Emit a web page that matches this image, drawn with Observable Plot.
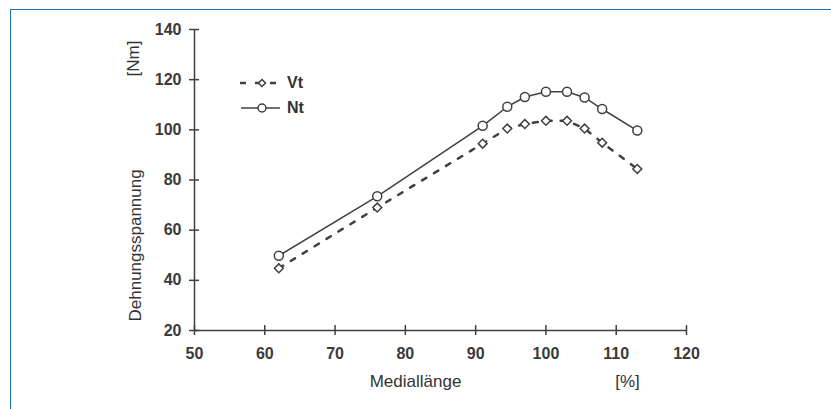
<!DOCTYPE html>
<html>
<head>
<meta charset="utf-8">
<script src="https://cdn.jsdelivr.net/npm/d3@7"></script>
<script src="https://cdn.jsdelivr.net/npm/@observablehq/plot@0.6"></script>
<style>
  html, body { margin: 0; padding: 0; background: #fff; }
  #wrap { position: relative; width: 831px; height: 409px; overflow: hidden; font-family: "Liberation Sans", Arial, sans-serif; }
  #frame { position: absolute; left: 10px; top: 9px; right: -10px; bottom: -10px; border-top: 1.5px solid #1c6fba; border-left: 1.5px solid #1c6fba; pointer-events: none; }
  #legend { position: absolute; left: 238px; top: 70px; color: #333; font-weight: bold; font-size: 16px; }
  #legend .row { display: flex; align-items: center; height: 25px; }
  #legend svg { display: block; margin-right: 7px; }
</style>
</head>
<body>
<div id="wrap">
  <div id="chart"></div>
  <div id="legend">
    <div class="row">
      <svg width="42" height="20"><line x1="2" y1="10" x2="40" y2="10" stroke="#404040" stroke-width="2.5" stroke-dasharray="6,9"/><path d="M24,6.5L27.5,10L24,13.5L20.5,10Z" fill="#fff" stroke="#404040" stroke-width="1.5"/></svg><span>Vt</span>
    </div>
    <div class="row">
      <svg width="42" height="20"><line x1="3" y1="10" x2="45" y2="10" stroke="#404040" stroke-width="1.5"/><circle cx="24" cy="10" r="4" fill="#fff" stroke="#404040" stroke-width="1.5"/></svg><span>Nt</span>
    </div>
  </div>
  <div id="frame"></div>
</div>
<script>
// Data
const mediallaenge = [62, 76, 91, 94.5, 97, 100, 103, 105.5, 108, 113];
const vtValues = [44.8, 69, 94.5, 100.5, 102.3, 103.6, 103.6, 100.5, 94.9, 84.4];
const ntValues = [49.8, 73.5, 101.6, 109.2, 113.1, 115.2, 115.2, 112.9, 108.3, 99.7];
const xTicks = [50, 60, 70, 80, 90, 100, 110, 120];
const yTicks = [20, 40, 60, 80, 100, 120, 140];
const xTitle = "Mediallänge";
const xUnit = "[%]";
const yTitle = "Dehnungsspannung";
const yUnit = "[Nm]";

const vt = mediallaenge.map((x, i) => ({x, y: vtValues[i]}));
const nt = mediallaenge.map((x, i) => ({x, y: ntValues[i]}));

const ink = "#404040";
const font = "'Liberation Sans', Arial, sans-serif";

const chart = Plot.plot({
  width: 831,
  height: 409,
  marginLeft: 194,
  marginRight: 145,
  marginTop: 29,
  marginBottom: 79,
  style: {fontFamily: font, color: "#333", background: "transparent"},
  x: {domain: [50, 120]},
  y: {domain: [20, 140]},
  marks: [
    Plot.ruleY([20], {stroke: ink, strokeWidth: 1.5}),
    Plot.ruleX([50], {stroke: ink, strokeWidth: 1.5}),
    // crossing ticks
    Plot.axisX({ticks: xTicks, tickSize: 10, dy: -5, tickFormat: () => "", stroke: ink, strokeWidth: 1.5, label: null}),
    Plot.axisY({ticks: yTicks, tickSize: 10, dx: 5, tickFormat: () => "", stroke: ink, strokeWidth: 1.5, label: null}),
    // tick labels
    Plot.axisX({ticks: xTicks, tickSize: 0, tickPadding: 17, fontSize: 16, fontWeight: "bold", fill: "#3a3a3a", label: null}),
    Plot.axisY({ticks: yTicks, tickSize: 0, tickPadding: 13, fontSize: 16, fontWeight: "bold", fill: "#3a3a3a", label: null}),
    // axis titles
    Plot.text([yTitle], {frameAnchor: "bottom-left", rotate: -90, textAnchor: "start", lineAnchor: "middle", dx: -59, dy: -9, fontSize: 17, fill: "#333"}),
    Plot.text([yUnit], {frameAnchor: "top-left", rotate: -90, textAnchor: "middle", lineAnchor: "middle", dx: -61, dy: 29, fontSize: 17, fill: "#333"}),
    Plot.text([xTitle], {frameAnchor: "bottom", textAnchor: "middle", lineAnchor: "middle", dx: -25, dy: 51, fontSize: 17, fill: "#333"}),
    Plot.text([xUnit], {frameAnchor: "bottom", textAnchor: "middle", lineAnchor: "middle", dx: 187, dy: 51, fontSize: 17, fill: "#333"}),
    // series
    Plot.line(vt, {x: "x", y: "y", stroke: ink, strokeWidth: 2.5, strokeDasharray: "5,9"}),
    Plot.line(nt, {x: "x", y: "y", stroke: ink, strokeWidth: 1.5}),
    Plot.dot(vt, {x: "x", y: "y", symbol: "diamond2", r: 4, fill: "#fff", stroke: ink, strokeWidth: 1.5}),
    Plot.dot(nt, {x: "x", y: "y", r: 4.5, fill: "#fff", stroke: ink, strokeWidth: 1.5})
  ]
});
document.getElementById("chart").appendChild(chart);
</script>
</body>
</html>
